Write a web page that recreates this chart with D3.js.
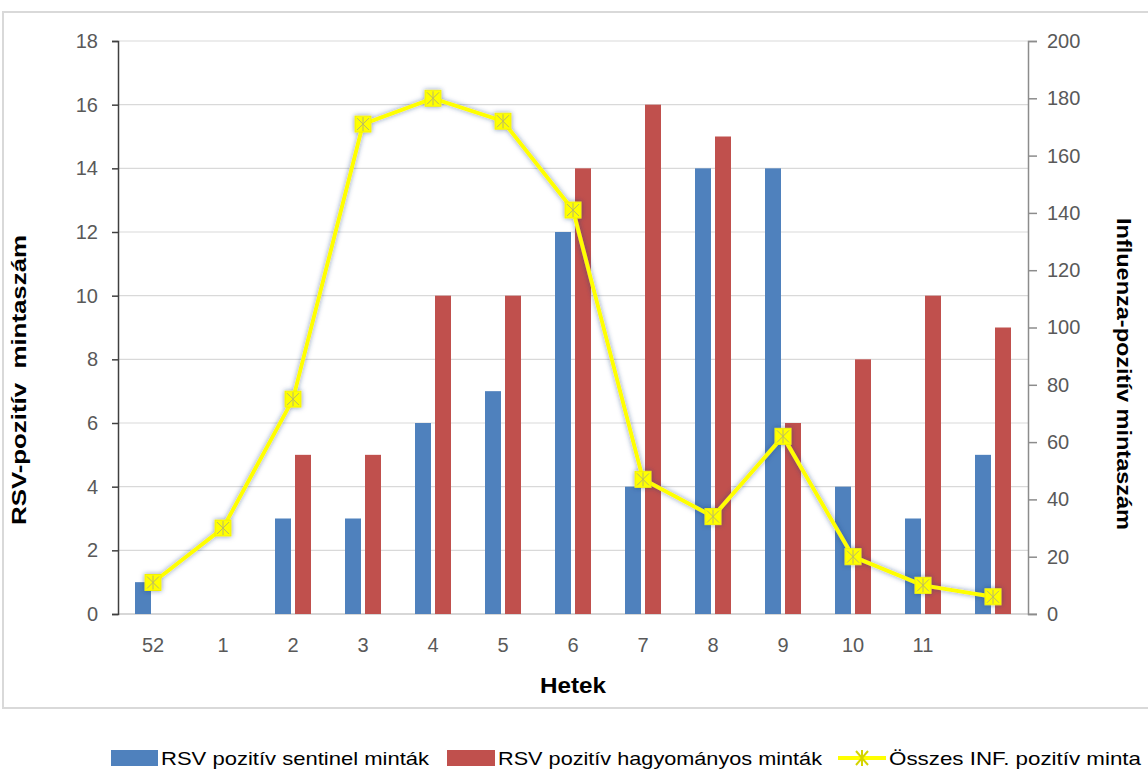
<!DOCTYPE html>
<html>
<head>
<meta charset="utf-8">
<script src="https://cdn.jsdelivr.net/npm/d3@7"></script>
<style>
  body { margin: 0; background: #fff; }
  svg { display: block; font-family: "Liberation Sans", Arial, sans-serif; }
</style>
</head>
<body>
<div id="chart"></div>
<script>
// Data
const weeks = ["52", "1", "2", "3", "4", "5", "6", "7", "8", "9", "10", "11", ""];
const sentinel = [1, 0, 3, 3, 6, 7, 12, 4, 14, 14, 4, 3, 5];
const traditional = [0, 0, 5, 5, 10, 10, 14, 16, 15, 6, 8, 10, 9];
const influenza = [11, 30, 75, 171, 180, 172, 141, 47, 34, 62, 20, 10, 6];
const leftTicks = [0, 2, 4, 6, 8, 10, 12, 14, 16, 18];
const rightTicks = [0, 20, 40, 60, 80, 100, 120, 140, 160, 180, 200];
const seriesNames = ["RSV pozitív sentinel minták", "RSV pozitív hagyományos minták", "Összes INF. pozitív minta"];

const W = 1148, H = 770;
const plot = { left: 118, right: 1028, top: 41, bottom: 614 };
const blue = "#4F81BD", red = "#C0504D", yellow = "#FFFF00";

const svg = d3.select("#chart").append("svg")
    .attr("width", W)
    .attr("height", H);

// glow for the line series
const defs = svg.append("defs");
const glow = defs.append("filter").attr("id", "glow")
    .attr("x", "-20%").attr("y", "-20%").attr("width", "140%").attr("height", "140%");
glow.append("feGaussianBlur").attr("in", "SourceAlpha").attr("stdDeviation", 2.5).attr("result", "blur");
glow.append("feFlood").attr("flood-color", "#1F3C78").attr("flood-opacity", 0.55);
glow.append("feComposite").attr("in2", "blur").attr("operator", "in").attr("result", "shadow");
const merge = glow.append("feMerge");
merge.append("feMergeNode").attr("in", "shadow");
merge.append("feMergeNode").attr("in", "SourceGraphic");

// chart border
svg.append("rect")
    .attr("x", 3).attr("y", 12)
    .attr("width", 1160).attr("height", 696)
    .attr("fill", "none")
    .attr("stroke", "#d9d9d9")
    .attr("stroke-width", 2);

// Scales
const x = d3.scaleBand().domain(weeks.map((d, i) => i)).range([plot.left, plot.right]);
const xInner = d3.scaleBand().domain([0, 1]).range([0, 36]).paddingInner(0.2);
const yL = d3.scaleLinear().domain([0, 18]).range([plot.bottom, plot.top]);
const yR = d3.scaleLinear().domain([0, 200]).range([plot.bottom, plot.top]);
const cx = i => x(i) + x.bandwidth() / 2;

// gridlines
svg.append("g").selectAll("line")
    .data(leftTicks)
    .join("line")
    .attr("x1", plot.left).attr("x2", plot.right)
    .attr("y1", d => yL(d)).attr("y2", d => yL(d))
    .attr("stroke", "#d9d9d9")
    .attr("stroke-width", 1.2);

// bottom axis line
svg.append("line")
    .attr("x1", plot.left).attr("x2", plot.right + 9)
    .attr("y1", plot.bottom).attr("y2", plot.bottom)
    .attr("stroke", "#d0d0d0").attr("stroke-width", 1.5);

// bars
const bars = svg.append("g");
bars.selectAll("rect.sent")
    .data(sentinel)
    .join("rect")
    .attr("class", "sent")
    .attr("x", (d, i) => cx(i) - 18 + xInner(0))
    .attr("width", xInner.bandwidth())
    .attr("y", d => yL(d))
    .attr("height", d => yL(0) - yL(d))
    .attr("fill", blue);
bars.selectAll("rect.trad")
    .data(traditional)
    .join("rect")
    .attr("class", "trad")
    .attr("x", (d, i) => cx(i) - 18 + xInner(1))
    .attr("width", xInner.bandwidth())
    .attr("y", d => yL(d))
    .attr("height", d => yL(0) - yL(d))
    .attr("fill", red);

// left axis
const leftAxis = svg.append("g")
    .attr("transform", `translate(${plot.left},0)`)
    .call(d3.axisLeft(yL).tickValues(leftTicks).tickSize(6).tickPadding(14));
leftAxis.select(".domain").attr("stroke", "#404040").attr("stroke-width", 1.5);
leftAxis.selectAll(".tick line").attr("stroke", "#404040").attr("stroke-width", 1.5);
leftAxis.selectAll("text")
    .attr("fill", "#595959")
    .style("font-size", "20px");

// right axis
const rightAxis = svg.append("g")
    .attr("transform", `translate(${plot.right},0)`)
    .call(d3.axisRight(yR).tickValues(rightTicks).tickSize(9).tickPadding(10));
rightAxis.select(".domain").attr("stroke", "#8c8c8c").attr("stroke-width", 1.5);
rightAxis.selectAll(".tick line").attr("stroke", "#8c8c8c").attr("stroke-width", 1.5);
rightAxis.selectAll("text")
    .attr("fill", "#595959")
    .style("font-size", "20px");

// category labels
svg.append("g").selectAll("text")
    .data(weeks)
    .join("text")
    .attr("x", (d, i) => cx(i))
    .attr("y", 652)
    .attr("text-anchor", "middle")
    .attr("fill", "#595959")
    .style("font-size", "20px")
    .text(d => d);

// axis titles
svg.append("text")
    .attr("transform", "translate(26,380) rotate(-90)")
    .attr("text-anchor", "middle")
    .style("font-size", "21px")
    .style("font-weight", "bold")
    .attr("textLength", 290).attr("lengthAdjust", "spacingAndGlyphs")
    .attr("xml:space", "preserve")
    .text("RSV-pozitív  mintaszám");
svg.append("text")
    .attr("transform", "translate(1117,374) rotate(90)")
    .attr("text-anchor", "middle")
    .style("font-size", "21px")
    .style("font-weight", "bold")
    .attr("textLength", 312).attr("lengthAdjust", "spacingAndGlyphs")
    .text("Influenza-pozitív mintaszám");
svg.append("text")
    .attr("x", 573).attr("y", 693)
    .attr("text-anchor", "middle")
    .style("font-size", "22px")
    .style("font-weight", "bold")
    .attr("textLength", 66).attr("lengthAdjust", "spacingAndGlyphs")
    .text("Hetek");

// marker drawing
function marker(sel) {
    sel.append("rect")
        .attr("x", -8).attr("y", -8).attr("width", 16).attr("height", 16)
        .attr("fill", yellow)
        .attr("stroke", "#f2f200").attr("stroke-width", 1);
    sel.append("path")
        .attr("d", "M-6,-6L6,6M6,-6L-6,6M0,-7L0,7")
        .attr("stroke", "#b8b86a").attr("stroke-width", 1)
        .attr("fill", "none");
}

// influenza line
const lineG = svg.append("g").attr("filter", "url(#glow)");
const line = d3.line()
    .x((d, i) => cx(i))
    .y(d => yR(d));
lineG.append("path")
    .datum(influenza)
    .attr("d", line)
    .attr("fill", "none")
    .attr("stroke", yellow)
    .attr("stroke-width", 4)
    .attr("stroke-linejoin", "round");
lineG.selectAll("g.pt")
    .data(influenza)
    .join("g")
    .attr("class", "pt")
    .attr("transform", (d, i) => `translate(${cx(i)},${yR(d)})`)
    .call(marker);

// legend
const legend = svg.append("g").style("font-size", "19px");
const ly = 758;
legend.append("rect").attr("x", 111).attr("y", ly - 8).attr("width", 47).attr("height", 16).attr("fill", blue);
legend.append("text").attr("x", 161).attr("y", ly + 7)
    .attr("textLength", 268).attr("lengthAdjust", "spacingAndGlyphs")
    .text(seriesNames[0]);
legend.append("rect").attr("x", 447).attr("y", ly - 8).attr("width", 48).attr("height", 16).attr("fill", red);
legend.append("text").attr("x", 498).attr("y", ly + 7)
    .attr("textLength", 324).attr("lengthAdjust", "spacingAndGlyphs")
    .text(seriesNames[1]);
legend.append("line")
    .attr("x1", 838).attr("x2", 886).attr("y1", ly).attr("y2", ly)
    .attr("stroke", yellow).attr("stroke-width", 4);
const lm = legend.append("g").attr("transform", `translate(862,${ly})`);
lm.append("path")
    .attr("d", "M-6,-7L6,7M6,-7L-6,7M0,-8L0,8")
    .attr("stroke", "#d4d400").attr("stroke-width", 2);
legend.append("text").attr("x", 889).attr("y", ly + 7)
    .attr("textLength", 252).attr("lengthAdjust", "spacingAndGlyphs")
    .text(seriesNames[2]);
</script>
</body>
</html>
